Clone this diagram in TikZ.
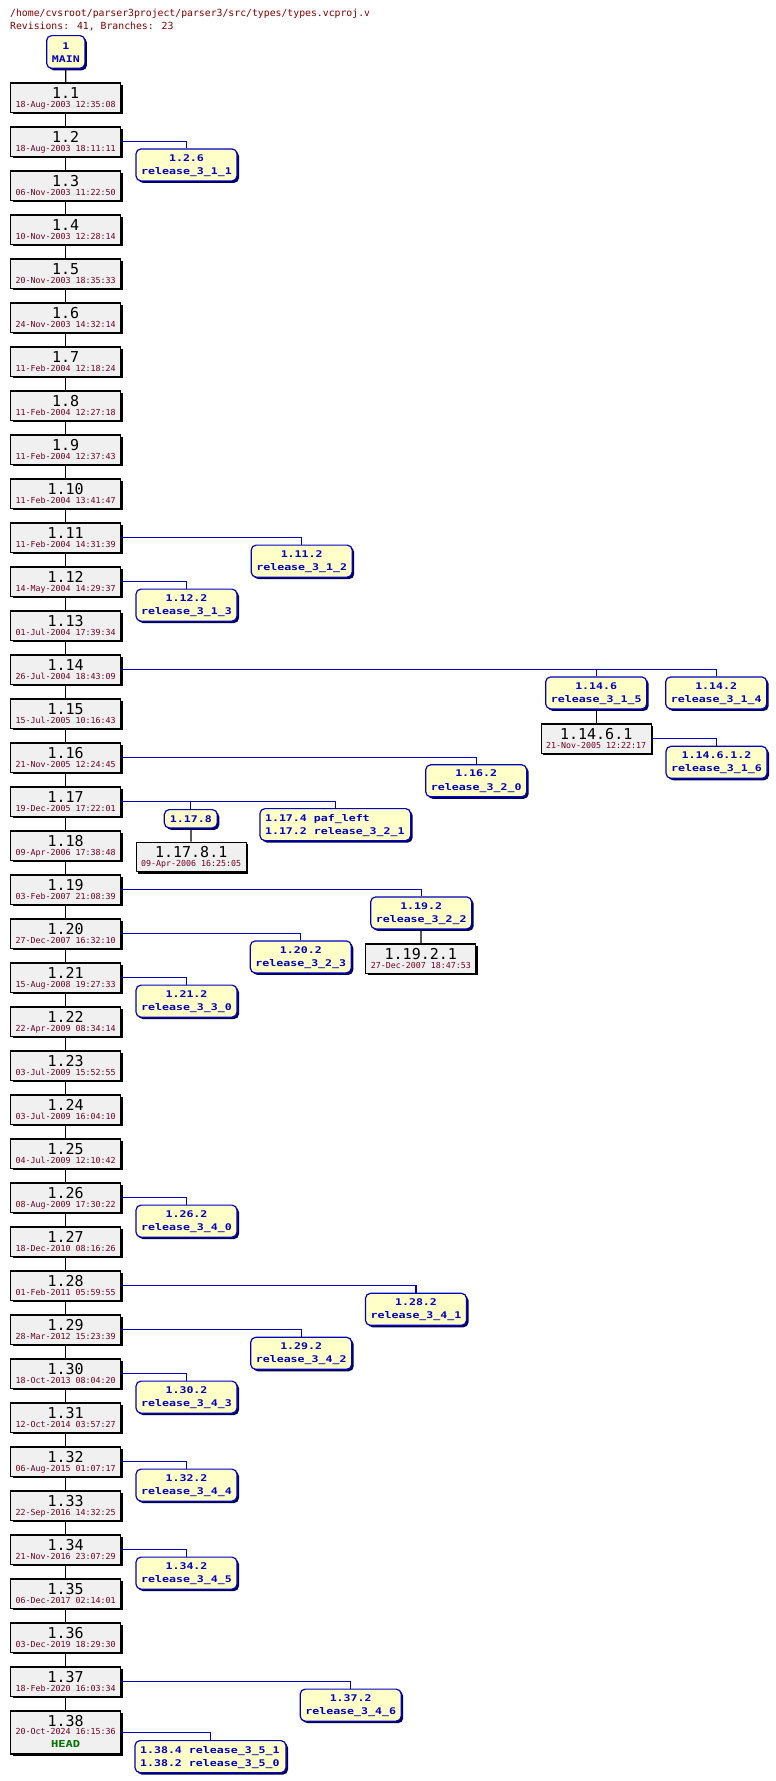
\documentclass[tikz,border=0pt]{standalone}
\usepackage{fontspec}
\usetikzlibrary{shadows}
\newfontfamily\monofont{DejaVu Sans Mono}
\newfontfamily\brfont{DejaVu Sans Mono}[FakeStretch=1.26]
\definecolor{revfill}{HTML}{F0F0F0}
\definecolor{brfill}{HTML}{FFFFC8}
\definecolor{brblue}{HTML}{0000C0}
\definecolor{brshadow}{HTML}{000050}
\definecolor{datered}{HTML}{700020}
\definecolor{hdrred}{HTML}{800000}
\definecolor{headgreen}{HTML}{007000}
\tikzset{
 revbox/.style={draw=black, line width=1.2pt, fill=revfill, minimum width=110pt, minimum height=29.4pt, inner sep=0pt, anchor=north,
   drop shadow={shadow xshift=2pt, shadow yshift=-2pt, opacity=1, fill=black}},
 brbox/.style={draw=brblue, line width=1.2pt, fill=brfill, rounded corners=5pt, minimum width=101pt, minimum height=32pt, inner sep=0pt, anchor=north,
   drop shadow={shadow xshift=2pt, shadow yshift=-2pt, opacity=1, fill=brshadow}},
 numtxt/.style={anchor=base, inner sep=0pt, font=\monofont\fontsize{15}{15}\selectfont, text=black},
 datetxt/.style={anchor=base, inner sep=0pt, font=\monofont\fontsize{8.3}{8.3}\selectfont, text=datered},
 brtxt/.style={anchor=base, inner sep=0pt, font=\brfont\bfseries\fontsize{9.2}{9.2}\selectfont, text=brblue},
 brtxtl/.style={brtxt, anchor=base west},
 headtxt/.style={anchor=base, inner sep=0pt, font=\brfont\bfseries\fontsize{9.6}{9.6}\selectfont, text=headgreen},
 hdrtxt/.style={anchor=base west, inner sep=0pt, font=\monofont\fontsize{9.8}{9.8}\selectfont, text=hdrred},
 trunkline/.style={draw=black, line width=1.2pt},
 brline/.style={draw=brblue, line width=1.2pt},
}
\newcommand\revnode[5]{%
  \node[revbox] (#1) at (#2,#3) {};
  \node[numtxt] (#1n) at ([yshift=-16pt]#1.north) {#4};
  \node[datetxt] (#1d) at ([yshift=-24.7pt]#1.north) {#5};
}
\newcommand\brnode[6]{%
  \node[brbox, minimum width=#4pt] (#1) at (#2,#3) {};
  \node[brtxt] (#1a) at ([yshift=-12.7pt]#1.north) {#5};
  \node[brtxt] (#1b) at ([yshift=-26.2pt]#1.north) {#6};
}
\newcommand\brleft[6]{%
  \node[brbox, minimum width=#4pt, minimum height=32pt] (#1) at (#2,#3) {};
  \node[brtxtl] (#1a) at ([xshift=5.5pt,yshift=-13.5pt]#1.north west) {#5};
  \node[brtxtl] (#1b) at ([xshift=5.5pt,yshift=-26.8pt]#1.north west) {#6};
}
\begin{document}
\begin{tikzpicture}[x=1pt,y=-1pt]
\useasboundingbox (0,0) rectangle (776,1781);
\node[hdrtxt] (hdr1) at (10,16.7) {/home/cvsroot/parser3project/parser3/src/types/types.vcproj.v};
\node[hdrtxt] (hdr2) at (10,29) {Revisions: 41, Branches: 23};
% MAIN
\node[brbox, minimum width=38.3pt, minimum height=32.7pt] (main) at (65.8,35) {};
\node[brtxt] (maina) at ([yshift=-14pt]main.north) {1};
\node[brtxt] (mainb) at ([yshift=-27.3pt]main.north) {MAIN};
% trunk
\foreach \n/\d [count=\k] in {
 1.1/18-Aug-2003 12:35:08, 1.2/18-Aug-2003 18:11:11, 1.3/06-Nov-2003 11:22:50,
 1.4/10-Nov-2003 12:28:14, 1.5/20-Nov-2003 18:35:33, 1.6/24-Nov-2003 14:32:14,
 1.7/11-Feb-2004 12:18:24, 1.8/11-Feb-2004 12:27:18, 1.9/11-Feb-2004 12:37:43,
 1.10/11-Feb-2004 13:41:47, 1.11/11-Feb-2004 14:31:39, 1.12/14-May-2004 14:29:37,
 1.13/01-Jul-2004 17:39:34, 1.14/26-Jul-2004 18:43:09, 1.15/15-Jul-2005 10:16:43,
 1.16/21-Nov-2005 12:24:45, 1.17/19-Dec-2005 17:22:01, 1.18/09-Apr-2006 17:38:48,
 1.19/03-Feb-2007 21:08:39, 1.20/27-Dec-2007 16:32:10, 1.21/15-Aug-2008 19:27:33,
 1.22/22-Apr-2009 08:34:14, 1.23/03-Jul-2009 15:52:55, 1.24/03-Jul-2009 16:04:10,
 1.25/04-Jul-2009 12:10:42, 1.26/08-Aug-2009 17:30:22, 1.27/18-Dec-2010 08:16:26,
 1.28/01-Feb-2011 05:59:55, 1.29/28-Mar-2012 15:23:39, 1.30/18-Oct-2013 08:04:20,
 1.31/12-Oct-2014 03:57:27, 1.32/06-Aug-2015 01:07:17, 1.33/22-Sep-2016 14:32:25,
 1.34/21-Nov-2016 23:07:29, 1.35/06-Dec-2017 02:14:01, 1.36/03-Dec-2019 18:29:30,
 1.37/18-Feb-2020 16:03:34}{
  \revnode{r\k}{65.7}{{82.3+(\k-1)*44}}{\n}{\d}
}
\node[revbox, minimum height=43pt] (r38) at (65.7,1710.3) {};
\node[numtxt] (r38n) at ([yshift=-16pt]r38.north) {1.38};
\node[datetxt] (r38d) at ([yshift=-24.3pt]r38.north) {20-Oct-2024 16:15:36};
\node[headtxt] (r38h) at ([yshift=-36.7pt]r38.north) {HEAD};
% branches
\brnode{b126}{186.5}{148.3}{101}{1.2.6}{release\_3\_1\_1}
\brnode{b1112}{301.7}{544.5}{101}{1.11.2}{release\_3\_1\_2}
\brnode{b1122}{186.5}{588.5}{101}{1.12.2}{release\_3\_1\_3}
\brnode{b1146}{596.2}{676.3}{101}{1.14.6}{release\_3\_1\_5}
\brnode{b1142}{716.2}{676.3}{101}{1.14.2}{release\_3\_1\_4}
\revnode{r11461}{596.2}{723.3}{1.14.6.1}{21-Nov-2005 12:22:17}
\brnode{b114612}{716.5}{745.7}{101}{1.14.6.1.2}{release\_3\_1\_6}
\brnode{b1162}{476.2}{764.2}{101}{1.16.2}{release\_3\_2\_0}
\node[brbox, minimum width=53pt, minimum height=18.3pt] (b1178) at (190.8,809) {};
\node[brtxt] (b1178a) at ([yshift=-13.3pt]b1178.north) {1.17.8};
\brleft{b1174}{335.3}{808}{150.7}{1.17.4 paf\_left}{1.17.2 release\_3\_2\_1}
\revnode{r11781}{191.2}{841.7}{1.17.8.1}{09-Apr-2006 16:25:05}
\brnode{b1192}{421.2}{896.3}{101}{1.19.2}{release\_3\_2\_2}
\revnode{r11921}{420.8}{943.3}{1.19.2.1}{27-Dec-2007 18:47:53}
\brnode{b1202}{300.8}{940.3}{101}{1.20.2}{release\_3\_2\_3}
\brnode{b1212}{186.5}{984.5}{101}{1.21.2}{release\_3\_3\_0}
\brnode{b1262}{186.5}{1204.5}{101}{1.26.2}{release\_3\_4\_0}
\brnode{b1282}{416}{1292.7}{101}{1.28.2}{release\_3\_4\_1}
\brnode{b1292}{301.2}{1336.7}{101}{1.29.2}{release\_3\_4\_2}
\brnode{b1302}{186.5}{1380.5}{101}{1.30.2}{release\_3\_4\_3}
\brnode{b1322}{186.5}{1468.5}{101}{1.32.2}{release\_3\_4\_4}
\brnode{b1342}{186.5}{1556.5}{101}{1.34.2}{release\_3\_4\_5}
\brnode{b1372}{350.7}{1688.5}{101}{1.37.2}{release\_3\_4\_6}
\brleft{b1384}{210.5}{1740}{151}{1.38.4 release\_3\_5\_1}{1.38.2 release\_3\_5\_0}
% trunk connectors
\draw[trunkline] (main) -- (r1);
\foreach \k [evaluate=\k as \kn using int(\k+1)] in {1,...,37}{
  \draw[trunkline] (r\k) -- (r\kn);
}
\draw[trunkline] (b1146) -- (r11461);
\draw[trunkline] (b1178) -- (r11781);
\draw[trunkline] (b1192) -- (r11921);
% branch connectors
\draw[brline] (r2.east) -| (b126.north);
\draw[brline] (r11.east) -| (b1112.north);
\draw[brline] (r12.east) -| (b1122.north);
\draw[brline] (r14.east) -| (b1146.north);
\draw[brline] (r14.east) -| (b1142.north);
\draw[brline] (r11461.east) -| (b114612.north);
\draw[brline] (r16.east) -| (b1162.north);
\draw[brline] (r17.east) -| (b1178.north);
\draw[brline] (r17.east) -| (b1174.north);
\draw[brline] (r19.east) -| (b1192.north);
\draw[brline] (r20.east) -| (b1202.north);
\draw[brline] (r21.east) -| (b1212.north);
\draw[brline] (r26.east) -| (b1262.north);
\draw[brline] (r28.east) -| (b1282.north);
\draw[brline] (r29.east) -| (b1292.north);
\draw[brline] (r30.east) -| (b1302.north);
\draw[brline] (r32.east) -| (b1322.north);
\draw[brline] (r34.east) -| (b1342.north);
\draw[brline] (r37.east) -| (b1372.north);
\draw[brline] (r38.east) -| (b1384.north);
\end{tikzpicture}
\end{document}
